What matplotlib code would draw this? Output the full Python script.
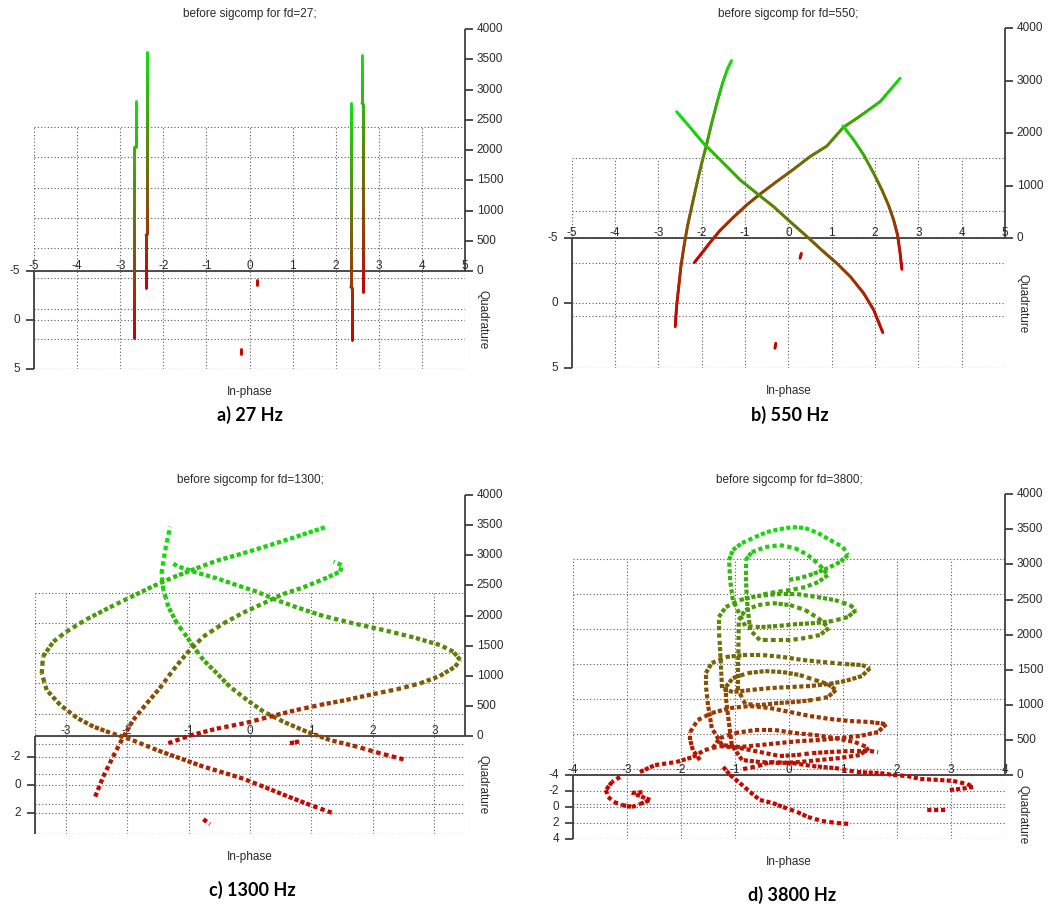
import numpy as np
import matplotlib
matplotlib.use("Agg")
import matplotlib.pyplot as plt
from matplotlib.collections import LineCollection
from matplotlib.colors import LinearSegmentedColormap, Normalize

plt.rcParams["font.family"] = ["Liberation Sans", "DejaVu Sans"]

W, H = 1052, 913

# ---------------- a) fd = 27 Hz : constellation points hardly rotate ----------------
a_l1_I = [-2.67, -2.67, -2.64, -2.64]
a_l1_Q = [1.87, 1.87, 1.87, 1.87]
a_l1_t = [0, 3150, 3170, 3920]
a_l2_I = [-2.40, -2.40, -2.37, -2.37]
a_l2_Q = [-3.23, -3.23, -3.23, -3.23]
a_l2_t = [0, 880, 900, 3910]
a_l3_I = [2.38, 2.38, 2.35, 2.35]
a_l3_Q = [2.04, 2.04, 2.04, 2.04]
a_l3_t = [0, 860, 880, 3917]
a_l4_I = [2.63, 2.63, 2.61, 2.61]
a_l4_Q = [-2.89, -2.89, -2.89, -2.89]
a_l4_t = [0, 3100, 3120, 3912]
a_d1_I = [0.18, 0.18]
a_d1_Q = [-3.57, -3.57]
a_d1_t = [0, 80]
a_d2_I = [-0.20, -0.20]
a_d2_Q = [3.47, 3.47]
a_d2_t = [0, 80]

# ---------------- b) fd = 550 Hz ----------------
b_c1_I = [-2.61, -2.58, -2.53, -2.48, -2.41, -2.33, -2.23, -2.11, -2.00, -1.88, -1.77, -1.65, -1.52, -1.40, -1.31]
b_c1_Q = [1.80, 1.31, 0.82, 0.37, -0.12, -0.57, -1.05, -1.76, -2.25, -2.70, -3.19, -3.68, -4.12, -4.22, -4.13]
b_c1_t = [0, 260, 520, 790, 1050, 1320, 1580, 1850, 2110, 2380, 2640, 2900, 3170, 3430, 3600]
b_c2_I = [-2.17, -2.00, -1.81, -1.58, -1.27, -0.96, -0.65, -0.27, 0.12, 0.50, 0.89, 1.27, 1.66, 2.12, 2.58]
b_c2_Q = [-3.10, -3.21, -3.32, -3.44, -3.56, -3.66, -3.72, -3.77, -3.78, -3.75, -3.67, -3.56, -3.40, -3.13, -2.76]
b_c2_t = [8, 158, 333, 533, 756, 968, 1161, 1385, 1617, 1866, 2087, 2471, 2727, 3067, 3602]
b_c3_I = [2.18, 1.97, 1.74, 1.43, 1.12, 0.81, 0.43, 0.04, -0.34, -0.73, -1.11, -1.57, -1.96, -2.27, -2.58]
b_c3_Q = [2.86, 2.13, 1.86, 1.58, 1.57, 1.68, 1.53, 1.39, 1.25, 1.23, 1.22, 0.89, 0.61, 0.39, 0.20]
b_c3_t = [150, 400, 650, 900, 1150, 1400, 1650, 1900, 2150, 2400, 2650, 2950, 3200, 3450, 3700]
b_c4_I = [2.62, 2.58, 2.52, 2.43, 2.31, 2.16, 1.97, 1.74, 1.51, 1.26]
b_c4_Q = [-2.61, -2.63, -2.63, -2.37, -2.11, -1.85, -1.32, -0.71, -0.04, 0.69]
b_c4_t = [0, 300, 650, 1000, 1350, 1700, 2150, 2650, 3100, 3550]
b_d1_I = [0.27, 0.30]
b_d1_Q = [-3.46, -3.52]
b_d1_t = [0, 80]
b_d2_I = [-0.31, -0.29]
b_d2_Q = [3.46, 3.40]
b_d2_t = [0, 80]

# ---------------- c) fd = 1300 Hz ----------------
c_c1_I = [2.50, 2.12, 1.74, 1.30, 0.92, 0.54, 0.22, -0.05, -0.33, -0.54, -0.76, -0.92, -1.03, -1.19, -1.33,
          -1.41, -1.44, -1.38, -1.30]
c_c1_Q = [-1.83, -0.97, 0.06, 1.09, 1.78, 2.36, 2.72, 2.96, 2.87, 2.78, 2.47, 2.17, 1.88, 1.36, 0.82,
          0.27, -0.49, -1.72, -2.96]
c_c1_t = [0, 300, 650, 1000, 1300, 1600, 1850, 2100, 2300, 2500, 2650, 2800, 2900, 3000, 3150,
          3300, 3400, 3500, 3600]
c_c2_I = [-2.52, -2.39, -2.23, -2.06, -1.90, -1.68, -1.47, -1.25, -1.03, -0.76, -0.43, -0.11, 0.22, 0.54, 0.87,
          1.19, 1.47, 1.49, 1.36]
c_c2_Q = [0.83, 0.27, -0.30, -0.66, -0.99, -1.10, -1.31, -1.55, -1.87, -1.99, -2.08, -1.98, -1.79, -1.59, -1.21,
          -0.92, -0.61, -0.65, -0.46]
c_c2_t = [0, 200, 400, 650, 850, 1100, 1300, 1550, 1750, 2000, 2200, 2400, 2600, 2800, 3000,
          3200, 3400, 3500, 3600]
c_c3_I = [1.33, 0.98, 0.60, 0.22, -0.11, -0.43, -0.76, -1.14, -1.52, -1.95, -2.28, -2.55, -2.82, -3.09, -3.31,
          -3.39, -3.37, -3.20, -2.99, -2.66, -2.28, -1.95, -1.57, -1.25, -0.87, -0.54, -0.11, 0.33, 0.76, 1.25]
c_c3_Q = [1.98, 1.86, 1.65, 1.41, 1.27, 1.27, 1.27, 1.32, 1.37, 1.25, 1.21, 1.21, 1.22, 0.95, 0.53,
          -0.01, -0.56, -0.99, -1.27, -1.51, -1.72, -1.79, -1.95, -2.14, -2.14, -2.25, -2.35, -2.51, -2.68, -2.96]
c_c3_t = [0, 100, 200, 300, 400, 500, 600, 750, 900, 1050, 1150, 1250, 1400, 1550, 1700,
          1850, 2000, 2150, 2250, 2400, 2550, 2700, 2850, 2950, 3100, 3200, 3300, 3400, 3500, 3600]
c_c4_I = [-1.33, -0.98, -0.54, -0.05, 0.32, 0.76, 1.14, 1.57, 2.01, 2.39, 2.77, 3.09, 3.34, 3.42,
          3.31, 3.09, 2.66, 2.17, 1.68, 1.19, 0.76, 0.43, 0.11, -0.22, -0.54, -0.87, -1.19, -1.25]
c_c4_Q = [-2.98, -3.10, -2.95, -2.73, -2.51, -2.35, -2.06, -1.77, -1.55, -1.24, -1.02, -0.90, -0.92, -0.97,
          -1.13, -1.18, -1.08, -0.96, -0.79, -0.67, -0.64, -0.52, -0.47, -0.51, -0.56, -0.54, -0.58, -0.34]
c_c4_t = [0, 100, 250, 400, 550, 700, 850, 1000, 1150, 1300, 1450, 1600, 1750, 1850,
          1950, 2050, 2200, 2350, 2500, 2650, 2800, 2950, 3100, 3200, 3300, 3400, 3500, 3600]
c_d1_I = [0.65, 0.73, 0.81]
c_d1_Q = [-2.98, -2.92, -2.86]
c_d1_t = [0, 30, 60]
c_d2_I = [-0.76, -0.65]
c_d2_Q = [2.45, 2.96]
c_d2_t = [0, 40]

# ---------------- d) fd = 3800 Hz : fast spiralling ----------------
d_h1_I = [-1.65, -1.78, -1.83, -1.83,
          -1.69, -1.43, -1.09, -0.72, -0.35, 0.02, 0.39, 0.76, 1.13, 1.50,
          1.80,
          1.65, 1.31, 0.94, 0.57, 0.20, -0.17, -0.54, -0.91, -1.24,
          -1.43, -1.50, -1.54, -1.54,
          -1.43, -1.17, -0.85, -0.48, -0.11, 0.26, 0.63, 1.04, 1.35,
          1.50,
          1.35, 1.04, 0.72, 0.39, 0.02, -0.35, -0.72, -1.04,
          -1.24, -1.28, -1.30, -1.30,
          -1.17, -0.91, -0.59, -0.22, 0.15, 0.52, 0.85, 1.13,
          1.24,
          1.09, 0.81, 0.48, 0.15, -0.22, -0.54, -0.81,
          -1.04, -1.09, -1.11,
          -1.04, -0.87, -0.63, -0.41, -0.17, 0.07, 0.30, 0.54, 0.76, 1.00,
          1.09,
          0.94, 0.72, 0.44, 0.20, -0.04]
d_h1_Q = [-3.5, -3.5, -3.5, -3.5,
          -3.6, -3.6, -3.6, -3.6, -3.6, -3.6, -3.6, -3.6, -3.6, -3.6,
          -3.5,
          -3.3, -3.3, -3.3, -3.3, -3.3, -3.3, -3.3, -3.3, -3.3,
          -3.5, -3.5, -3.5, -3.5,
          -3.6, -3.6, -3.6, -3.6, -3.6, -3.6, -3.6, -3.6, -3.6,
          -3.5,
          -3.3, -3.3, -3.3, -3.3, -3.3, -3.3, -3.3, -3.3,
          -3.5, -3.5, -3.5, -3.5,
          -3.6, -3.6, -3.6, -3.6, -3.6, -3.6, -3.6, -3.6,
          -3.5,
          -3.3, -3.3, -3.3, -3.3, -3.3, -3.3, -3.3,
          -3.5, -3.5, -3.5,
          -3.6, -3.6, -3.6, -3.6, -3.6, -3.6, -3.6, -3.6, -3.6, -3.6,
          -3.5,
          -3.3, -3.3, -3.3, -3.3, -3.3]
d_h1_t = [271, 413, 556, 670,
          829, 929, 1000, 1029, 1000, 943, 886, 844, 815, 801,
          783,
          693, 636, 607, 579, 564, 536, 507, 479, 507,
          727, 1054, 1339, 1510,
          1641, 1727, 1755, 1755, 1727, 1684, 1656, 1627, 1613,
          1581,
          1490, 1419, 1376, 1348, 1334, 1319, 1291, 1262,
          1296, 1909, 2123, 2308,
          2439, 2539, 2596, 2624, 2624, 2582, 2539, 2468,
          2407,
          2331, 2274, 2245, 2231, 2203, 2188, 2203,
          2550, 2835, 3120,
          3251, 3351, 3436, 3508, 3550, 3579, 3565, 3493, 3394, 3294,
          3191,
          3114, 3029, 2943, 2886, 2858]
d_h2_I = [-1.41,
          -1.28, -1.00, -0.63, -0.26, 0.11, 0.48, 0.85, 1.22,
          1.48,
          1.31, 0.94, 0.57, 0.20, -0.17, -0.54, -0.87,
          -1.06, -1.13, -1.17, -1.17,
          -1.04, -0.76, -0.44, -0.11, 0.20, 0.48, 0.72,
          0.87,
          0.72, 0.43, 0.11, -0.20, -0.54, -0.81,
          -0.94, -0.94, -0.93,
          -0.81, -0.57, -0.30, 0.02, 0.30, 0.54,
          0.74,
          0.57, 0.30, 0.02, -0.26, -0.54,
          -0.72, -0.78, -0.80, -0.80,
          -0.69, -0.44, -0.17, 0.11, 0.35, 0.57,
          0.72,
          0.54, 0.30, 0.02, -0.26, -0.54]
d_h2_Q = [-3.2,
          -3.3, -3.3, -3.3, -3.3, -3.3, -3.3, -3.3, -3.3,
          -3.2,
          -2.9, -2.9, -2.9, -2.9, -2.9, -2.9, -2.9,
          -3.2, -3.2, -3.2, -3.2,
          -3.3, -3.3, -3.3, -3.3, -3.3, -3.3, -3.3,
          -3.2,
          -2.9, -2.9, -2.9, -2.9, -2.9, -2.9,
          -3.2, -3.2, -3.2,
          -3.3, -3.3, -3.3, -3.3, -3.3, -3.3,
          -3.2,
          -2.9, -2.9, -2.9, -2.9, -2.9,
          -3.2, -3.2, -3.2, -3.2,
          -3.3, -3.3, -3.3, -3.3, -3.3, -3.3,
          -3.2,
          -2.9, -2.9, -2.9, -2.9, -2.9]
d_h2_t = [477,
          607, 678, 721, 721, 678, 650, 607, 550,
          477,
          411, 368, 340, 311, 297, 311, 340,
          519, 947, 1203, 1346,
          1462, 1533, 1561, 1547, 1505, 1433, 1376,
          1303,
          1237, 1194, 1166, 1152, 1123, 1137,
          1303, 1730, 2300,
          2430, 2502, 2530, 2502, 2430, 2316,
          2186,
          2120, 2078, 2049, 2049, 2049,
          2158, 2585, 2941, 3155,
          3257, 3328, 3356, 3314, 3214, 3071,
          2941,
          2875, 2804, 2761, 2733, 2690]
d_r1_I = [-3.13, -3.28, -3.39, -3.35, -3.24, -3.09, -2.91, -2.76, -2.57, -2.76, -2.91, -2.67]
d_r1_Q = [-3.76, -3.04, -1.96, -1.01, -0.29, 0.16, 0.50, 0.21, -0.20, -0.61, -0.90, -0.93]
d_r1_t = [0, 10, 20, 30, 40, 50, 60, 70, 80, 90, 100, 110]
d_r2_I = [-1.22, -1.09, -0.91, -0.72, -0.54, -0.30, -0.11, 0.15, 0.35, 0.61, 0.89, 1.15]
d_r2_Q = [-3.60, -2.74, -1.87, -0.89, -0.02, 0.22, 0.59, 1.07, 1.56, 1.93, 2.07, 2.09]
d_r2_t = [160, 145, 130, 115, 100, 85, 70, 55, 40, 25, 12, 0]
d_r3_I = [-0.85, -0.57, -0.35, 0.07, 0.43, 0.85, 1.26, 1.69, 1.93, 2.19, 2.43, 2.80, 3.04, 3.30, 3.41, 3.17, 2.94]
d_r3_Q = [-3.5, -3.5, -3.5, -3.5, -3.5, -3.5, -3.5, -3.5, -3.39, -3.35, -3.07, -3.03, -3.00, -2.71, -2.38, -2.18, -2.09]
d_r3_t = [142, 185, 242, 228, 185, 157, 100, 85, 70, 60, 50, 40, 30, 20, 15, 10, 5]
d_r4_I = [2.56, 2.94]
d_r4_Q = [0.35, 0.44]
d_r4_t = [0, 10]
d_r5_I = [-2.76, -2.48, -2.09, -1.78, -1.56, -1.28, -0.91, -0.54, -0.17, 0.15, 0.43, 0.76, 1.13, 1.50, 1.65]
d_r5_Q = [-3.5, -3.5, -3.5, -3.5, -3.5, -3.5, -3.5, -3.5, -3.5, -3.5, -3.5, -3.5, -3.5, -3.5, -3.5]
d_r5_t = [100, 199, 242, 313, 413, 470, 442, 385, 328, 342, 370, 385, 399, 399, 385]

fig = plt.figure(figsize=(W / 100, H / 100), dpi=100)
fig.patch.set_facecolor("white")
cmap = LinearSegmentedColormap.from_list("redgreen", ["#c80000", "#10e010"])

AX_COL = "#404040"
GRID_COL = "#5a5a5a"
TXT_COL = "#2a2a2a"


def make_panel(box, ilim, qlim, iticks, qticks, tticks, title, tmax, qlab_dy=0.0):
    # box = pixel positions: left, right, top (t=4000), t=0 line, bottom (far floor edge)
    left, right, top, t0y, bottom = box
    ax = fig.add_axes([left / W, 1 - bottom / H, (right - left) / W, (bottom - top) / H])
    i0, i1 = ilim
    q0, q1 = qlim
    k = ((bottom - t0y) / (q1 - q0)) / ((t0y - top) / 4000.0)
    ax.set_xlim(i0, i1)
    ax.set_ylim(-(q1 - q0) * k, 4000)
    ax.axis("off")

    def yy(Q, t):
        return t - (Q - q0) * k

    gkw = dict(color=GRID_COL, lw=0.8, ls=(0, (1, 2)), zorder=1)
    for t in tticks:
        ax.plot([i0, i1], [yy(q1, t)] * 2, **gkw)
    for q in sorted(set([q0, q1] + list(qticks))):
        ax.plot([i0, i1], [yy(q, 0)] * 2, **gkw)
    for i in sorted(set([i0, i1] + list(iticks))):
        ax.plot([i, i], [yy(q1, 0), yy(q1, 4000)], **gkw)

    akw = dict(color=AX_COL, lw=1.3, zorder=2, solid_capstyle="butt", clip_on=False)
    ax.plot([i0, i1], [0, 0], **akw)
    ax.plot([i0, i0], [0, yy(q1, 0)], **akw)
    ax.plot([i1, i1], [0, 4000], **akw)

    tkw = dict(textcoords="offset points", fontsize=8.5, color=TXT_COL, annotation_clip=False)
    dx = 8.0 / ((right - left) / (i1 - i0))
    for q in qticks:
        ax.plot([i0 - dx, i0], [yy(q, 0)] * 2, **akw)
        ax.annotate(f"{q:g}", (i0, yy(q, 0)), xytext=(-10, 0), ha="right", va="center", **tkw)
    for t in tticks:
        ax.plot([i1, i1 + dx], [t, t], **akw)
        ax.annotate(f"{t:g}", (i1, t), xytext=(8.5, 0), ha="left", va="center", **tkw)
    for i in iticks:
        ax.annotate(f"{i:g}", (i, 0), xytext=(0, -0.5), ha="center", va="bottom", **tkw)

    mid = 0.5 * (i0 + i1)
    ax.annotate(title, (mid, 4000), xytext=(0, 10.5), ha="center", va="center", **tkw)
    ax.annotate("In-phase", (mid, yy(q1, 0)), xytext=(0, -16.5), ha="center", va="center", **tkw)
    ax.annotate("Quadrature", (i1, yy(0.5 * (q0 + q1), 0)), xytext=(12.5, qlab_dy), rotation=270,
                ha="center", va="center", **tkw)
    return dict(ax=ax, k=k, q0=q0, norm=Normalize(0, tmax))


def draw_curve(p, I, Q, t, lw, step, dashed=False):
    ax = p["ax"]
    I = np.asarray(I, float)
    t = np.asarray(t, float)
    y = t - (np.asarray(Q, float) - p["q0"]) * p["k"]
    xy = ax.transData.transform(np.column_stack([I, y]))
    segs, vals = [], []
    for j in range(len(I) - 1):
        # split each piece so that the colour can follow t smoothly
        n = max(1, int(round(np.hypot(*(xy[j + 1] - xy[j])) / step)))
        f = np.linspace(0.0, 1.0, n + 1)
        xs = I[j] + (I[j + 1] - I[j]) * f
        ys = y[j] + (y[j + 1] - y[j]) * f
        ts = t[j] + (t[j + 1] - t[j]) * f
        for m in range(n):
            segs.append([(xs[m], ys[m]), (xs[m + 1], ys[m + 1])])
            vals.append(0.5 * (ts[m] + ts[m + 1]))
    lc = LineCollection(segs, colors=cmap(p["norm"](np.array(vals))), linewidths=lw, zorder=3,
                        capstyle="butt" if dashed else "round")
    if dashed:
        lc.set_linestyle((0, (1.0, 0.75)))
    ax.add_collection(lc)


pa = make_panel((34, 465, 29, 271, 369), (-5, 5), (-5, 5), range(-5, 6), [-5, 0, 5],
                range(0, 4001, 500), "before sigcomp for fd=27;", 3920)
for I, Q, t in [(a_l1_I, a_l1_Q, a_l1_t), (a_l2_I, a_l2_Q, a_l2_t), (a_l3_I, a_l3_Q, a_l3_t),
                (a_l4_I, a_l4_Q, a_l4_t), (a_d1_I, a_d1_Q, a_d1_t), (a_d2_I, a_d2_Q, a_d2_t)]:
    draw_curve(pa, I, Q, t, 2.1, 2.0)

pb = make_panel((571.7, 1005, 28.3, 238.3, 368.3), (-5, 5), (-5, 5), range(-5, 6), [-5, 0, 5],
                range(0, 4001, 1000), "before sigcomp for fd=550;", 3650)
for I, Q, t in [(b_c1_I, b_c1_Q, b_c1_t), (b_c2_I, b_c2_Q, b_c2_t), (b_c3_I, b_c3_Q, b_c3_t),
                (b_c4_I, b_c4_Q, b_c4_t), (b_d1_I, b_d1_Q, b_d1_t), (b_d2_I, b_d2_Q, b_d2_t)]:
    draw_curve(pb, I, Q, t, 2.1, 2.0)

pc = make_panel((35, 465, 495, 736, 834), (-3.5, 3.5), (-3.5, 3.5), range(-3, 4), [-2, 0, 2],
                range(0, 4001, 500), "before sigcomp for fd=1300;", 3600)
for I, Q, t in [(c_c1_I, c_c1_Q, c_c1_t), (c_c2_I, c_c2_Q, c_c2_t), (c_c3_I, c_c3_Q, c_c3_t),
                (c_c4_I, c_c4_Q, c_c4_t), (c_d1_I, c_d1_Q, c_d1_t), (c_d2_I, c_d2_Q, c_d2_t)]:
    draw_curve(pc, I, Q, t, 3.1, 7.0, dashed=True)

pd_ = make_panel((573, 1005, 494.3, 775, 839.4), (-4, 4), (-4, 4), range(-4, 5), [-4, -2, 0, 2, 4],
                 range(0, 4001, 500), "before sigcomp for fd=3800;", 3600, qlab_dy=-5.0)
for I, Q, t in [(d_r1_I, d_r1_Q, d_r1_t), (d_r2_I, d_r2_Q, d_r2_t), (d_r3_I, d_r3_Q, d_r3_t),
                (d_r4_I, d_r4_Q, d_r4_t), (d_r5_I, d_r5_Q, d_r5_t), (d_h1_I, d_h1_Q, d_h1_t),
                (d_h2_I, d_h2_Q, d_h2_t)]:
    draw_curve(pd_, I, Q, t, 3.0, 6.5, dashed=True)

captions = ["a) 27 Hz", "b) 550 Hz", "c) 1300 Hz", "d) 3800 Hz"]
cap_x = [250, 790, 252, 792]
cap_y = [415, 415, 890, 895]
for s, x, y in zip(captions, cap_x, cap_y):
    fig.text(x / W, 1 - y / H, s, ha="center", va="center", fontsize=13, fontweight="bold",
             family=["Lato", "DejaVu Sans"], color="black")

fig.savefig("out.png", dpi=100, facecolor="white")
